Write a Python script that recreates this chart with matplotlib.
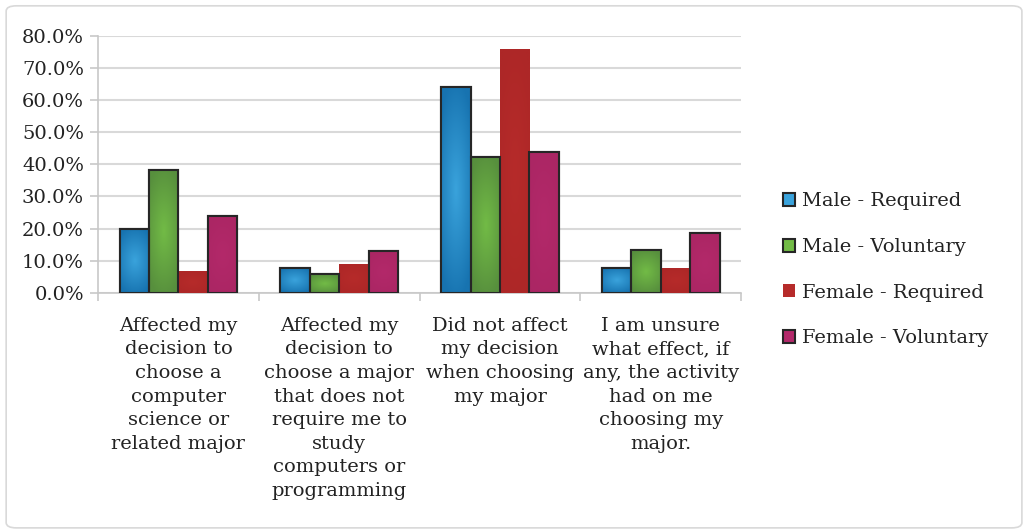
import numpy as np
import matplotlib.pyplot as plt
from matplotlib.colors import LinearSegmentedColormap
from matplotlib.patches import FancyBboxPatch

plt.rcParams['font.family'] = ['DejaVu Serif']

categories = [
    "Affected my\ndecision to\nchoose a\ncomputer\nscience or\nrelated major",
    "Affected my\ndecision to\nchoose a major\nthat does not\nrequire me to\nstudy\ncomputers or\nprogramming",
    "Did not affect\nmy decision\nwhen choosing\nmy major",
    "I am unsure\nwhat effect, if\nany, the activity\nhad on me\nchoosing my\nmajor.",
]
series_names = ["Male - Required", "Male - Voluntary", "Female - Required", "Female - Voluntary"]
male_required = [20.0, 7.8, 63.9, 7.9]
male_voluntary = [38.3, 5.8, 42.2, 13.3]
female_required = [6.8, 9.1, 75.9, 7.9]
female_voluntary = [23.8, 13.1, 43.8, 18.6]
yticks = [0, 10, 20, 30, 40, 50, 60, 70, 80]

values = [male_required, male_voluntary, female_required, female_voluntary]
# (edge, center) colours for the shaded fill
shades = [("#1773b0", "#3aa3dc"), ("#578f3d", "#72bb46"),
          ("#ad2727", "#b62b2a"), ("#ab2664", "#b3296a")]
edges = ["#262626", "#262626", "none", "#262626"]

fig = plt.figure(figsize=(10.26, 5.30), dpi=100)
ax = fig.add_axes([0.0955, 0.447, 0.627, 0.486])

# light frame around the whole chart
frame = FancyBboxPatch((0.006, 0.004), 0.99, 0.985, boxstyle="round,pad=0,rounding_size=0.01",
                       transform=fig.transFigure, fill=False, edgecolor="#d9d9d9",
                       linewidth=1.2)
fig.patches.append(frame)

x = np.arange(len(categories))
w = 0.183
offsets = (np.arange(4) - 1.5) * w

# radial shading, light in the middle of each bar
u = np.linspace(-1, 1, 48)
uu, vv = np.meshgrid(u, u)
grad = np.clip(1 - np.sqrt(0.6 * uu ** 2 + vv ** 2) / 1.1, 0, 1)

for i in range(4):
    c0, c1 = shades[i]
    cmap = LinearSegmentedColormap.from_list("g%d" % i, [c0, c1])
    bars = ax.bar(x + offsets[i], values[i], w, color=c1, edgecolor="none",
                  label=series_names[i], zorder=3)
    for b in bars:
        bx, by = b.get_x(), b.get_y()
        im = ax.imshow(grad, cmap=cmap, aspect="auto", zorder=3.5, vmin=0, vmax=1,
                       interpolation="bilinear",
                       extent=(bx, bx + b.get_width(), by, by + b.get_height()))
        im.set_clip_path(b)
    if edges[i] != "none":
        ax.bar(x + offsets[i], values[i], w, fill=False,
               edgecolor=edges[i], linewidth=1.5, zorder=4)
        for b in bars:
            b.set_edgecolor(edges[i])
            b.set_linewidth(1.5)

ax.set_xlim(-0.5, len(categories) - 0.5)
ax.set_ylim(0, 80)
ax.set_yticks(yticks)
ax.set_yticklabels(["%.1f%%" % v for v in yticks], fontsize=14, color="#222222")
ax.set_xticks(x)
ax.set_xticklabels(categories, fontsize=14, color="#222222", linespacing=1.4)
ax.set_xticks(np.arange(len(categories) + 1) - 0.5, minor=True)
ax.tick_params(axis="x", which="major", length=0, pad=17)
ax.tick_params(axis="x", which="minor", length=6, color="#c8c8c8", width=1.2)
ax.tick_params(axis="y", length=6, color="#c8c8c8", width=1.2, pad=4)

ax.grid(axis="y", color="#d9d9d9", linewidth=1.5, zorder=0)
ax.set_axisbelow(True)
for s in ["top", "right"]:
    ax.spines[s].set_visible(False)
ax.spines["left"].set_color("#c8c8c8")
ax.spines["bottom"].set_color("#c8c8c8")
ax.spines["left"].set_linewidth(1.2)
ax.spines["bottom"].set_linewidth(1.2)

ax.legend(loc="center left", bbox_to_anchor=(1.037, 0.09), frameon=False, fontsize=14,
          handlelength=0.65, handleheight=0.65, handletextpad=0.35, labelspacing=1.42,
          labelcolor="#222222")

fig.savefig("out.png", dpi=100)
